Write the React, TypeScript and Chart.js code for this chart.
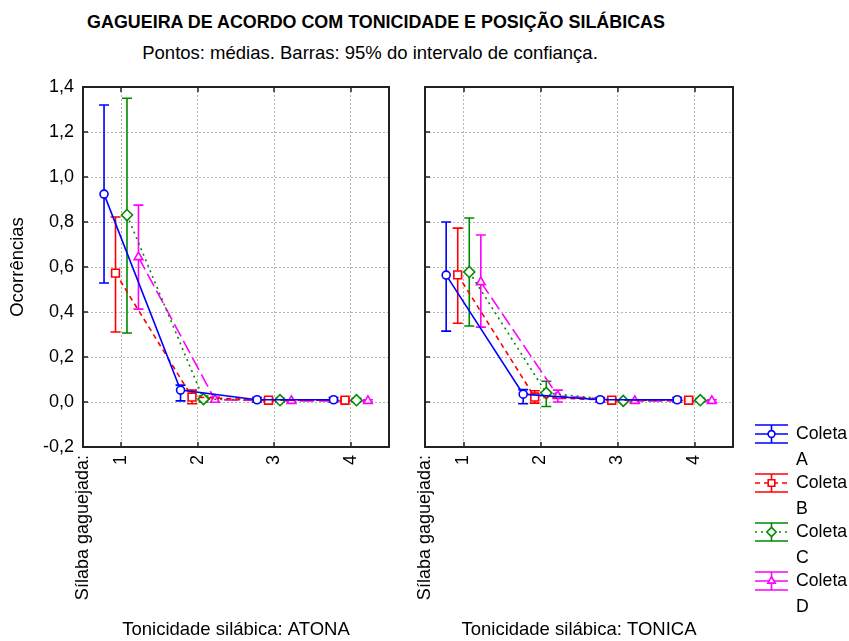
import React, { useEffect, useRef } from 'react';
import { Chart, registerables } from 'chart.js';

Chart.register(...registerables);

// ---------- data ----------
const categories = [1, 2, 3, 4];
const seriesLetters = ['A', 'B', 'C', 'D'];
const seriesOffsets = [-0.225, -0.075, 0.075, 0.225];
const yMin = -0.2;
const yMax = 1.4;
const yStep = 0.2;

// Tonicidade ATONA
const atonaMeanA = [0.924, 0.053, 0.01, 0.01];
const atonaLowA = [0.529, 0.005, 0.0, 0.0];
const atonaHighA = [1.32, 0.075, 0.02, 0.02];
const atonaMeanB = [0.573, 0.022, 0.008, 0.008];
const atonaLowB = [0.311, -0.008, 0.0, 0.0];
const atonaHighB = [0.822, 0.053, 0.016, 0.016];
const atonaMeanC = [0.831, 0.013, 0.008, 0.008];
const atonaLowC = [0.307, 0.0, 0.0, 0.0];
const atonaHighC = [1.35, 0.027, 0.016, 0.016];
const atonaMeanD = [0.644, 0.01, 0.005, 0.005];
const atonaLowD = [0.413, 0.0, 0.0, 0.0];
const atonaHighD = [0.875, 0.022, 0.01, 0.01];

// Tonicidade TONICA
const tonicaMeanA = [0.564, 0.035, 0.01, 0.01];
const tonicaLowA = [0.315, -0.008, 0.0, 0.0];
const tonicaHighA = [0.8, 0.055, 0.02, 0.02];
const tonicaMeanB = [0.565, 0.022, 0.008, 0.008];
const tonicaLowB = [0.35, -0.005, 0.0, 0.0];
const tonicaHighB = [0.773, 0.05, 0.016, 0.016];
const tonicaMeanC = [0.578, 0.04, 0.005, 0.008];
const tonicaLowC = [0.338, -0.02, 0.0, 0.0];
const tonicaHighC = [0.818, 0.092, 0.01, 0.016];
const tonicaMeanD = [0.533, 0.027, 0.005, 0.005];
const tonicaLowD = [0.333, 0.0, 0.0, 0.0];
const tonicaHighD = [0.742, 0.053, 0.01, 0.01];

const titleText = 'GAGUEIRA DE ACORDO COM TONICIDADE E POSIÇÃO SILÁBICAS';
const subtitleText = 'Pontos: médias. Barras: 95% do intervalo de confiança.';
const yAxisTitle = 'Ocorrências';
const xFirstLabel = 'Sílaba gaguejada:';
const atonaTitle = 'Tonicidade silábica: ATONA';
const tonicaTitle = 'Tonicidade silábica: TONICA';
const legendWord = 'Coleta';

// ---------- styles ----------
const FONT = '"Liberation Sans", Arial, sans-serif';
const TEXT_SIZE = 18.5;
const TICK_SIZE = 18;
const seriesColors = ['#0000ff', '#ff0000', '#008a00', '#ff00ff'];
const seriesDash = [[], [5, 4], [2, 4], [14, 5]];
const seriesPointStyle = ['circle', 'rect', 'rectRot', 'triangle'];
const seriesPointRadius = [4, 5.5, 5.5, 5];

function buildDatasets(means: number[][], lows: number[][], highs: number[][]) {
  return means.map((m, i) => ({
    label: legendWord + ' ' + seriesLetters[i],
    data: categories.map((c, j) => ({ x: c + seriesOffsets[i], y: m[j] })),
    errLow: lows[i],
    errHigh: highs[i],
    borderColor: seriesColors[i],
    backgroundColor: '#ffffff',
    borderWidth: 1.6,
    borderDash: seriesDash[i],
    pointStyle: seriesPointStyle[i],
    pointRadius: seriesPointRadius[i],
    pointBorderWidth: 1.6,
    pointBorderColor: seriesColors[i],
    pointBackgroundColor: '#ffffff',
    tension: 0,
    fill: false,
  }));
}

function markerPath(ctx: CanvasRenderingContext2D, style: string, x: number, y: number, r: number) {
  ctx.beginPath();
  if (style === 'circle') {
    ctx.arc(x, y, r, 0, Math.PI * 2);
  } else if (style === 'rect') {
    const s = r / Math.SQRT2;
    ctx.rect(x - s, y - s, 2 * s, 2 * s);
  } else if (style === 'rectRot') {
    ctx.moveTo(x, y - r);
    ctx.lineTo(x + r, y);
    ctx.lineTo(x, y + r);
    ctx.lineTo(x - r, y);
    ctx.closePath();
  } else {
    ctx.moveTo(x, y - r);
    ctx.lineTo(x + r * 0.87, y + r * 0.5);
    ctx.lineTo(x - r * 0.87, y + r * 0.5);
    ctx.closePath();
  }
}

const errorBarPlugin = {
  id: 'errorBars',
  beforeDatasetsDraw(chart: any) {
    const { ctx } = chart;
    const xs = chart.scales.x;
    const ys = chart.scales.y;
    chart.data.datasets.forEach((ds: any) => {
      ctx.save();
      ctx.strokeStyle = ds.borderColor;
      ctx.lineWidth = 1.6;
      ctx.setLineDash([]);
      ds.data.forEach((p: any, j: number) => {
        const x = xs.getPixelForValue(p.x);
        const y1 = ys.getPixelForValue(ds.errLow[j]);
        const y2 = ys.getPixelForValue(ds.errHigh[j]);
        ctx.beginPath();
        ctx.moveTo(x, y1);
        ctx.lineTo(x, y2);
        ctx.moveTo(x - 5, y1);
        ctx.lineTo(x + 5, y1);
        ctx.moveTo(x - 5, y2);
        ctx.lineTo(x + 5, y2);
        ctx.stroke();
      });
      ctx.restore();
    });
  },
};

const framePlugin = {
  id: 'frame',
  afterDraw(chart: any) {
    const { ctx, chartArea: a } = chart;
    const xs = chart.scales.x;
    const ys = chart.scales.y;
    ctx.save();
    ctx.setLineDash([]);
    ctx.strokeStyle = '#222222';
    ctx.lineWidth = 2;
    ctx.strokeRect(a.left, a.top, a.right - a.left, a.bottom - a.top);
    ctx.lineWidth = 1.5;
    ctx.beginPath();
    ys.ticks.forEach((t: any) => {
      const y = Math.round(ys.getPixelForValue(t.value));
      ctx.moveTo(a.left, y);
      ctx.lineTo(a.left + 5, y);
    });
    categories.forEach((c) => {
      const x = Math.round(xs.getPixelForValue(c));
      ctx.moveTo(x, a.bottom);
      ctx.lineTo(x, a.bottom - 5);
      ctx.moveTo(x, a.top);
      ctx.lineTo(x, a.top + 5);
    });
    ctx.stroke();
    ctx.restore();
  },
};

const legendPlugin = {
  id: 'sideLegend',
  afterDraw(chart: any) {
    const { ctx, chartArea: a } = chart;
    const x0 = a.right + 22;
    const x1 = x0 + 33;
    const xc = (x0 + x1) / 2;
    chart.data.datasets.forEach((ds: any, i: number) => {
      const cy = 434 + i * 49;
      ctx.save();
      ctx.strokeStyle = ds.borderColor;
      ctx.lineWidth = 1.6;
      ctx.setLineDash(ds.borderDash);
      ctx.beginPath();
      ctx.moveTo(x0, cy);
      ctx.lineTo(x1, cy);
      ctx.stroke();
      ctx.setLineDash([]);
      ctx.beginPath();
      ctx.moveTo(xc, cy - 9);
      ctx.lineTo(xc, cy + 9);
      ctx.moveTo(x0, cy - 9);
      ctx.lineTo(x1, cy - 9);
      ctx.moveTo(x0, cy + 9);
      ctx.lineTo(x1, cy + 9);
      ctx.stroke();
      ctx.fillStyle = '#ffffff';
      markerPath(ctx, ds.pointStyle, xc, cy, ds.pointRadius * 0.85);
      ctx.fill();
      ctx.stroke();
      ctx.fillStyle = '#000000';
      ctx.font = '17.7px ' + FONT;
      ctx.textAlign = 'left';
      ctx.textBaseline = 'middle';
      ctx.fillText(legendWord, x1 + 8, cy);
      ctx.fillText(seriesLetters[i], x1 + 8, cy + 26);
      ctx.restore();
    });
  },
};

function fmtY(v: number) {
  const r = Math.abs(v) < 1e-9 ? 0 : v;
  return r.toFixed(1).replace('.', ',');
}

function makeConfig(datasets: any[], title: string, showYLabels: boolean, yWidth: number, padRight: number, extraPlugins: any[]) {
  return {
    type: 'line',
    data: { datasets },
    plugins: [errorBarPlugin, framePlugin, ...extraPlugins],
    options: {
      responsive: false,
      animation: false,
      devicePixelRatio: 1,
      layout: { padding: { top: 87, right: padRight, left: 0, bottom: 0 } },
      plugins: { legend: { display: false }, tooltip: { enabled: false }, title: { display: false } },
      scales: {
        x: {
          type: 'linear',
          min: 0.5,
          max: 4.5,
          afterBuildTicks(scale: any) {
            scale.ticks = [{ value: 0.5 }, ...categories.map((c) => ({ value: c }))];
          },
          afterFit(scale: any) {
            scale.height = 194;
          },
          ticks: {
            autoSkip: false,
            minRotation: 90,
            maxRotation: 90,
            padding: 8,
            color: '#000000',
            font: { family: FONT, size: TICK_SIZE },
            callback: (v: number) => (v < 0.9 ? xFirstLabel : String(v)),
          },
          grid: {
            drawTicks: false,
            color: (c: any) => (c.tick && c.tick.value > 0.9 ? '#b4b4b4' : 'rgba(0,0,0,0)'),
            lineWidth: 1,
          },
          border: { display: false, dash: [2, 2] },
          title: {
            display: true,
            text: title,
            color: '#000000',
            font: { family: FONT, size: TEXT_SIZE },
            padding: { top: 0, bottom: 0 },
          },
        },
        y: {
          type: 'linear',
          min: yMin,
          max: yMax,
          afterFit(scale: any) {
            scale.width = yWidth;
          },
          ticks: {
            stepSize: yStep,
            display: showYLabels,
            padding: 9,
            color: '#000000',
            font: { family: FONT, size: TICK_SIZE },
            callback: (v: number) => fmtY(v),
          },
          grid: { drawTicks: false, color: '#b4b4b4', lineWidth: 1 },
          border: { display: false, dash: [2, 2] },
          title: {
            display: showYLabels,
            text: yAxisTitle,
            color: '#000000',
            font: { family: FONT, size: TEXT_SIZE },
            padding: { top: 7, bottom: 0 },
          },
        },
      },
    },
  };
}

function Panel(props: { left: number; width: number; config: any }) {
  const ref = useRef<HTMLCanvasElement | null>(null);
  useEffect(() => {
    if (!ref.current) return;
    const chart = new Chart(ref.current, props.config);
    return () => chart.destroy();
  }, []);
  return (
    <canvas
      ref={ref}
      width={props.width}
      height={641}
      style={{ position: 'absolute', left: props.left, top: 0, width: props.width, height: 641 }}
    />
  );
}

export default function App() {
  const atonaDs = buildDatasets(
    [atonaMeanA, atonaMeanB, atonaMeanC, atonaMeanD],
    [atonaLowA, atonaLowB, atonaLowC, atonaLowD],
    [atonaHighA, atonaHighB, atonaHighC, atonaHighD]
  );
  const tonicaDs = buildDatasets(
    [tonicaMeanA, tonicaMeanB, tonicaMeanC, tonicaMeanD],
    [tonicaLowA, tonicaLowB, tonicaLowC, tonicaLowD],
    [tonicaHighA, tonicaHighB, tonicaHighC, tonicaHighD]
  );
  const leftCfg = makeConfig(atonaDs, atonaTitle, true, 83, 11, []);
  const rightCfg = makeConfig(tonicaDs, tonicaTitle, false, 30, 116, [legendPlugin]);
  return (
    <div style={{ position: 'absolute', left: 0, top: 0, width: 849, height: 641, background: '#ffffff', overflow: 'hidden', fontFamily: FONT, color: '#000' }}>
      <div style={{ position: 'absolute', left: 0, top: 11, width: 752, textAlign: 'center', fontWeight: 'bold', fontSize: 17.9, lineHeight: '22px' }}>
        {titleText}
      </div>
      <div style={{ position: 'absolute', left: 0, top: 42, width: 740, textAlign: 'center', fontSize: 18.5, lineHeight: '22px' }}>
        {subtitleText}
      </div>
      <Panel left={0} width={400} config={leftCfg} />
      <Panel left={395} width={454} config={rightCfg} />
    </div>
  );
}
